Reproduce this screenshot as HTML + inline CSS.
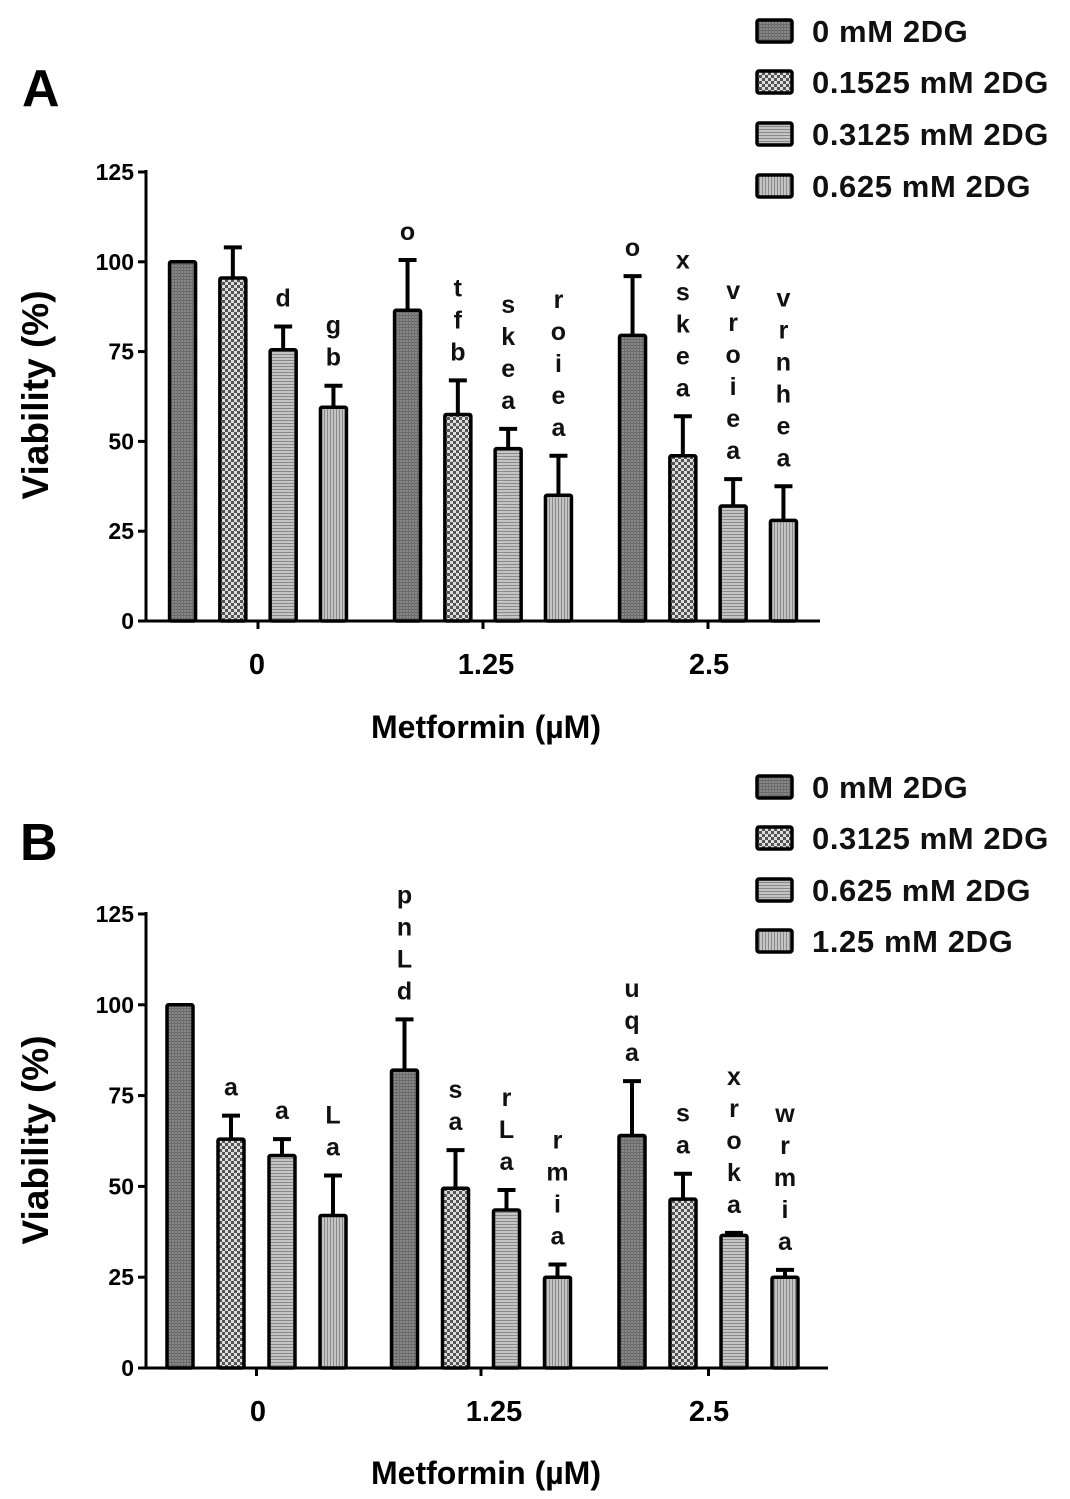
<!DOCTYPE html>
<html><head><meta charset="utf-8"><style>
html,body{margin:0;padding:0;background:#fff;}
svg{display:block;font-family:"Liberation Sans",Arial,sans-serif;font-weight:bold;}
</style></head><body>
<svg id="chart" width="1070" height="1499" viewBox="0 0 1070 1499">
<defs>
<pattern id="p0" width="3" height="3" patternUnits="userSpaceOnUse"><rect width="3" height="3" fill="#888"/><rect width="3" height="1" fill="#666"/><rect width="1" height="3" fill="#6e6e6e"/></pattern>
<pattern id="p1" width="6" height="6" patternUnits="userSpaceOnUse"><rect width="6" height="6" fill="#ddd"/><rect width="3" height="3" fill="#555"/><rect x="3" y="3" width="3" height="3" fill="#555"/></pattern>
<pattern id="p2" width="3" height="3" patternUnits="userSpaceOnUse"><rect width="3" height="3" fill="#c4c4c4"/><rect width="3" height="1" fill="#8a8a8a"/></pattern>
<pattern id="p3" width="3" height="3" patternUnits="userSpaceOnUse"><rect width="3" height="3" fill="#c4c4c4"/><rect width="1" height="3" fill="#8a8a8a"/></pattern>
</defs>
<g id="gA"></g>
<g id="gB"></g>
</svg>
<script>
const groups = ["0","1.25","2.5"];
const yTicks = [0,25,50,75,100,125];
const seriesA = ["0 mM 2DG","0.1525 mM 2DG","0.3125 mM 2DG","0.625 mM 2DG"];
const valuesA = [[100,95.5,75.5,59.5],[86.5,57.5,48,35],[79.5,46,32,28]];
const errorsA = [[0,8.5,6.5,6],[14,9.5,5.5,11],[16.5,11,7.5,9.5]];
const lettersA = [["","","d","gb"],["o","tfb","skea","roiea"],["o","xskea","vroiea","vrnhea"]];
const seriesB = ["0 mM 2DG","0.3125 mM 2DG","0.625 mM 2DG","1.25 mM 2DG"];
const valuesB = [[100,63,58.5,42],[82,49.5,43.5,25],[64,46.5,36.5,25]];
const errorsB = [[0,6.5,4.5,11],[14,10.5,5.5,3.5],[15,7,0.7,2]];
const lettersB = [["","a","a","La"],["pnLd","sa","rLa","rmia"],["uqa","sa","xroka","wrmia"]];

const NS="http://www.w3.org/2000/svg";
function mk(parent,tag,attrs,txt){const e=document.createElementNS(NS,tag);for(const k in attrs)e.setAttribute(k,attrs[k]);if(txt!==undefined)e.textContent=txt;parent.appendChild(e);return e;}

function panel(g,cfg,series,values,errors,letters){
  const y=v=>cfg.y0-v*(cfg.y0-cfg.y125)/125;
  const gx=i=>cfg.gx[i];
  const bx=(gi,si)=>gx(gi)+(si-1.5)*cfg.sp;
  const pl=mk(g,"text",{x:cfg.lblX,y:cfg.lblY,"font-size":52,fill:"#000"},cfg.lbl);
  
  
  values.forEach((row,gi)=>row.forEach((v,si)=>{
    const cx=bx(gi,si), top=y(v), et=y(v+errors[gi][si]);
    if(errors[gi][si]>0){
      const eb=mk(g,"path",{d:`M${cx} ${top}V${et}M${cx-9} ${et}H${cx+9}`,stroke:"#000","stroke-width":4,fill:"none"});
      
      
    }
    const r=mk(g,"rect",{x:cx-13,y:top,width:26,height:cfg.y0-top,fill:`url(#p${si})`,stroke:"#000","stroke-width":3.5,rx:1.5});
    
    
    const L=letters[gi][si];
    for(let k=0;k<L.length;k++){
      const t=mk(g,"text",{x:cx,y:et-20-(L.length-1-k)*32,"text-anchor":"middle","font-size":25,fill:"#111"},L[k]);
      
      
    }
  }));
  const ax=mk(g,"path",{d:`M${cfg.ax} ${cfg.y125-2}V${cfg.y0}H${cfg.xEnd}`,stroke:"#000","stroke-width":3,fill:"none"});
  
  
  yTicks.forEach(v=>{
    const tk=mk(g,"path",{d:`M${cfg.ax-8} ${y(v)}H${cfg.ax}`,stroke:"#000","stroke-width":3});
    
    
    const tl=mk(g,"text",{x:cfg.ax-12,y:y(v)+8,"text-anchor":"end","font-size":23,fill:"#000"},String(v));
    
    
  });
  groups.forEach((lab,gi)=>{
    const tk=mk(g,"path",{d:`M${gx(gi)} ${cfg.y0}V${cfg.y0+8}`,stroke:"#000","stroke-width":3});
    
    
    const tl=mk(g,"text",{x:cfg.lx[gi],y:cfg.y0+53,"text-anchor":"middle","font-size":29,fill:"#000"},lab);
    
    
  });
  const xt=mk(g,"text",{x:486,y:cfg.xtY,"text-anchor":"middle","font-size":32,fill:"#000"},"Metformin (µM)");
  
  
  const yt=mk(g,"text",{x:0,y:0,"text-anchor":"middle","font-size":37,fill:"#000",transform:`translate(48 ${cfg.ytY}) rotate(-90)`},"Viability (%)");
  
  
  series.forEach((s,si)=>{
    const cy=cfg.legY[si];
    const lg=mk(g,"g",{});
    
    
    mk(lg,"rect",{x:757,y:cy-11,width:35,height:22,fill:`url(#p${si})`,stroke:"#000","stroke-width":3.5,rx:2});
    mk(lg,"text",{x:812,y:cy+11,"font-size":31,"letter-spacing":"0.6",fill:"#111"},s);
  });
}
panel(document.getElementById("gA"),{y0:621,y125:172,ax:146,xEnd:820,gx:[258,483,708],lx:[257,486,709],sp:50.3,lbl:"A",lblX:22,lblY:106,xtY:738,ytY:395,legY:[31,82,134,186]},seriesA,valuesA,errorsA,lettersA);
panel(document.getElementById("gB"),{y0:1368,y125:914,ax:146,xEnd:828,gx:[256.5,481,708.5],lx:[258,494,709],sp:51,lbl:"B",lblX:20,lblY:860,xtY:1484,ytY:1140,legY:[787,838,890,941]},seriesB,valuesB,errorsB,lettersB);
</script>
</body></html>
